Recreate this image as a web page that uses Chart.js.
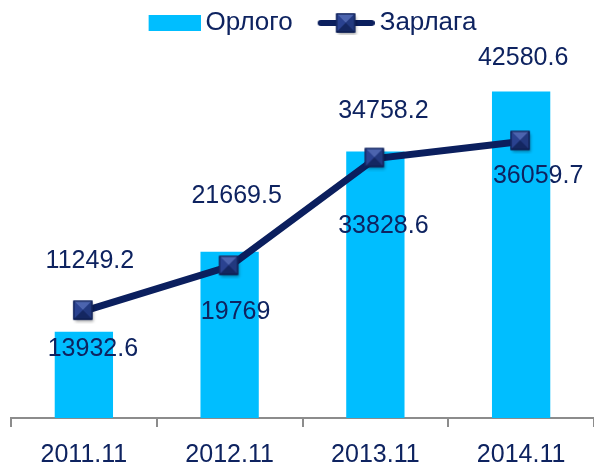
<!DOCTYPE html>
<html>
<head>
<meta charset="utf-8">
<script src="https://cdn.jsdelivr.net/npm/chart.js@4.4.1/dist/chart.umd.min.js"></script>
<style>
  html, body { margin: 0; padding: 0; background: #ffffff; }
  #wrap { width: 594px; height: 467px; }
</style>
</head>
<body>
<div id="wrap"><canvas id="c" width="594" height="467"></canvas></div>
<script>
// ---- data ----
const categories = ['2011.11', '2012.11', '2013.11', '2014.11'];
const incomeValues = [11249.2, 21669.5, 34758.2, 42580.6];   // Орлого
const expenseValues = [13932.6, 19769, 33828.6, 36059.7];    // Зарлага
const seriesNames = ['Орлого', 'Зарлага'];

// ---- label placement (pixel offsets, style only) ----
const barLabelDx = [6, 7, 8, 2];
const barLabelDy = [-71, -56, -40, -33];
const lineLabelDx = [9, 6, 8, 17];
const lineLabelDy = [38, 46, 68, 35];

const BAR_COLOR = '#00BEFF';
const LINE_COLOR = '#0B1F5E';
const TEXT_COLOR = '#0E2360';
const FONT = '"Liberation Sans", Arial, sans-serif';

function drawMarker(ctx, cx, cy, s) {
  const h = s / 2;
  ctx.save();
  ctx.shadowColor = 'rgba(0,0,0,0.35)';
  ctx.shadowBlur = 3;
  ctx.shadowOffsetX = 1;
  ctx.shadowOffsetY = 2;
  ctx.fillStyle = '#1A2F72';
  ctx.fillRect(cx - h, cy - h, s, s);
  ctx.restore();
  const tri = (pts, col) => {
    ctx.beginPath();
    ctx.moveTo(pts[0], pts[1]);
    ctx.lineTo(pts[2], pts[3]);
    ctx.lineTo(pts[4], pts[5]);
    ctx.closePath();
    ctx.fillStyle = col;
    ctx.fill();
  };
  tri([cx - h, cy - h, cx + h, cy - h, cx, cy], '#4C64AE');
  tri([cx - h, cy - h, cx - h, cy + h, cx, cy], '#2A4290');
  tri([cx + h, cy - h, cx + h, cy + h, cx, cy], '#22397F');
  tri([cx - h, cy + h, cx + h, cy + h, cx, cy], '#142761');
  ctx.strokeStyle = '#0B1A4A';
  ctx.lineWidth = 1;
  ctx.strokeRect(cx - h + 0.5, cy - h + 0.5, s - 1, s - 1);
}

// point marker image
const markerImg = document.createElement('canvas');
markerImg.width = 26; markerImg.height = 26;
drawMarker(markerImg.getContext('2d'), 12, 12, 19);

// legend images
const legBar = document.createElement('canvas');
legBar.width = 80; legBar.height = 16;
(function () {
  const g = legBar.getContext('2d');
  g.fillStyle = BAR_COLOR;
  g.fillRect(28, 0, 52, 16);
})();
const legLine = document.createElement('canvas');
legLine.width = 80; legLine.height = 24;
(function () {
  const g = legLine.getContext('2d');
  g.strokeStyle = LINE_COLOR;
  g.lineWidth = 6;
  g.lineCap = 'round';
  g.beginPath();
  g.moveTo(26, 12);
  g.lineTo(77, 12);
  g.stroke();
  drawMarker(g, 51, 12, 19);
})();

const valueLabels = {
  id: 'valueLabels',
  afterDatasetsDraw(chart) {
    const ctx = chart.ctx;
    ctx.save();
    ctx.font = '25px ' + FONT;
    ctx.fillStyle = TEXT_COLOR;
    ctx.textAlign = 'center';
    ctx.textBaseline = 'middle';
    const barMeta = chart.getDatasetMeta(0);
    barMeta.data.forEach((el, i) => {
      ctx.fillText(String(incomeValues[i]), el.x + barLabelDx[i], el.y + barLabelDy[i]);
    });
    const lineMeta = chart.getDatasetMeta(1);
    lineMeta.data.forEach((el, i) => {
      ctx.fillText(String(expenseValues[i]), el.x + lineLabelDx[i], el.y + lineLabelDy[i]);
    });
    ctx.restore();
  }
};

new Chart(document.getElementById('c'), {
  data: {
    labels: categories,
    datasets: [
      {
        type: 'bar',
        label: seriesNames[0],
        data: incomeValues,
        backgroundColor: BAR_COLOR,
        borderWidth: 0,
        categoryPercentage: 0.4,
        barPercentage: 1.0,
        order: 2
      },
      {
        type: 'line',
        label: seriesNames[1],
        data: expenseValues,
        borderColor: LINE_COLOR,
        borderWidth: 7,
        backgroundColor: LINE_COLOR,
        pointStyle: markerImg,
        pointRadius: 10,
        pointHoverRadius: 10,
        tension: 0,
        order: 1
      }
    ]
  },
  options: {
    responsive: false,
    animation: false,
    devicePixelRatio: 1,
    layout: { autoPadding: false, padding: { left: 11, right: 0, top: 0, bottom: 0 } },
    plugins: {
      legend: {
        display: true,
        position: 'top',
        labels: {
          usePointStyle: true,
          pointStyleWidth: 64,
          padding: 10,
          color: TEXT_COLOR,
          font: { family: FONT, size: 26 },
          generateLabels(chart) {
            return chart.data.datasets.map((ds, i) => ({
              text: ds.label,
              pointStyle: i === 0 ? legBar : legLine,
              fillStyle: 'transparent',
              strokeStyle: 'transparent',
              lineWidth: 0,
              fontColor: TEXT_COLOR,
              datasetIndex: i,
              hidden: false
            }));
          }
        }
      },
      tooltip: { enabled: false }
    },
    scales: {
      x: {
        offset: true,
        grid: {
          offset: true,
          drawOnChartArea: false,
          drawTicks: true,
          tickLength: 9,
          color: '#8C8C8C',
          lineWidth: 2
        },
        border: { display: true, color: '#8C8C8C', width: 2 },
        ticks: {
          color: TEXT_COLOR,
          font: { family: FONT, size: 25 },
          padding: 13
        },
        afterFit(scale) {
          scale.paddingLeft = 0;
          scale.paddingRight = 0;
          scale.height = 49;
        }
      },
      y: {
        display: false,
        min: 0,
        max: 48500
      }
    }
  },
  plugins: [valueLabels]
});
</script>
</body>
</html>
